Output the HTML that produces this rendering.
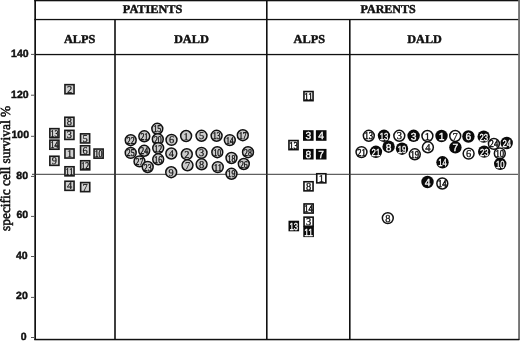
<!DOCTYPE html>
<html><head><meta charset="utf-8"><style>
html,body{margin:0;padding:0;background:#fff;}
body{width:520px;height:342px;overflow:hidden;}
svg{display:block;will-change:transform;}
text{text-rendering:geometricPrecision;}
</style></head><body>
<svg width="520" height="342" viewBox="0 0 520 342">
<rect width="520" height="342" fill="#fff"/>
<!-- grid lines -->
<g fill="#111">
<rect x="34.3" y="0" width="1.7" height="340"/>
<rect x="518.1" y="0" width="1.9" height="340" fill="#747474"/>
<rect x="34.3" y="0" width="484" height="1.3"/>
<rect x="34.3" y="18.9" width="484" height="1.3"/>
<rect x="34.3" y="53.9" width="484" height="1.3"/>
<rect x="34.3" y="338.8" width="485" height="1.5"/>
<rect x="114.2" y="19" width="1.6" height="321"/>
<rect x="266" y="0" width="1.6" height="340"/>
<rect x="349" y="19" width="1.6" height="321"/>
</g>
<rect x="32" y="173.8" width="486" height="1" fill="#3a3a3a"/>
<rect x="31" y="53.90" width="4" height="1" fill="#555"/>
<text x="11.10" y="57.10" font-family="'Liberation Sans', sans-serif" font-weight="bold" font-size="10.5" fill="#111" stroke="#111" stroke-width="0.45">140</text>
<rect x="31" y="94.70" width="4" height="1" fill="#555"/>
<text x="11.10" y="97.50" font-family="'Liberation Sans', sans-serif" font-weight="bold" font-size="10.5" fill="#111" stroke="#111" stroke-width="0.45">120</text>
<rect x="31" y="135.80" width="4" height="1" fill="#555"/>
<text x="11.50" y="138.10" font-family="'Liberation Sans', sans-serif" font-weight="bold" font-size="10.5" fill="#111" stroke="#111" stroke-width="0.45">100</text>
<rect x="31" y="175.90" width="4" height="1" fill="#555"/>
<text x="16.30" y="178.70" font-family="'Liberation Sans', sans-serif" font-weight="bold" font-size="10.5" fill="#111" stroke="#111" stroke-width="0.45">80</text>
<rect x="31" y="215.90" width="4" height="1" fill="#555"/>
<text x="16.50" y="217.50" font-family="'Liberation Sans', sans-serif" font-weight="bold" font-size="10.5" fill="#111" stroke="#111" stroke-width="0.45">60</text>
<rect x="31" y="256.00" width="4" height="1" fill="#555"/>
<text x="15.90" y="258.70" font-family="'Liberation Sans', sans-serif" font-weight="bold" font-size="10.5" fill="#111" stroke="#111" stroke-width="0.45">40</text>
<rect x="31" y="296.90" width="4" height="1" fill="#555"/>
<text x="16.10" y="299.10" font-family="'Liberation Sans', sans-serif" font-weight="bold" font-size="10.5" fill="#111" stroke="#111" stroke-width="0.45">20</text>
<rect x="31" y="337.00" width="4" height="1" fill="#555"/>
<text x="20.70" y="340.10" font-family="'Liberation Sans', sans-serif" font-weight="bold" font-size="10.5" fill="#111" stroke="#111" stroke-width="0.45">0</text>
<g font-family="'Liberation Serif', serif" font-weight="bold" font-size="12" fill="#111" stroke="#111" stroke-width="0.45" lengthAdjust="spacingAndGlyphs">
<text x="122.8" y="13.0" textLength="59.6" lengthAdjust="spacingAndGlyphs">PATIENTS</text>
<text x="360.5" y="13.0" textLength="55.2" lengthAdjust="spacingAndGlyphs">PARENTS</text>
<text x="64" y="42.5" textLength="31.4" lengthAdjust="spacingAndGlyphs">ALPS</text>
<text x="173.9" y="42.5" textLength="34.9" lengthAdjust="spacingAndGlyphs">DALD</text>
<text x="293.6" y="42.5" textLength="31.4" lengthAdjust="spacingAndGlyphs">ALPS</text>
<text x="407.3" y="42.5" textLength="34.5" lengthAdjust="spacingAndGlyphs">DALD</text>
</g>
<text transform="translate(9.7,230.9) rotate(-90)" font-family="'Liberation Serif', serif" font-size="13.8" fill="#111" stroke="#111" stroke-width="0.55" textLength="125" lengthAdjust="spacingAndGlyphs">specific cell survival %</text>
<rect x="64.95" y="84.65" width="9.10" height="9.10" fill="#d2d2d2" stroke="#1a1a1a" stroke-width="1.6"/>
<text x="69.50" y="92.74" font-family="'Liberation Serif', serif" font-size="10.4" text-anchor="middle" fill="#111" stroke="#111" stroke-width="0.20">2</text>
<rect x="64.85" y="117.25" width="9.10" height="9.10" fill="#d2d2d2" stroke="#1a1a1a" stroke-width="1.6"/>
<text x="69.40" y="125.34" font-family="'Liberation Serif', serif" font-size="10.4" text-anchor="middle" fill="#111" stroke="#111" stroke-width="0.20">8</text>
<rect x="49.85" y="128.65" width="9.10" height="9.10" fill="#d2d2d2" stroke="#1a1a1a" stroke-width="1.6"/>
<text x="50.50" y="136.74" font-family="'Liberation Serif', serif" font-size="10.4" text-anchor="start" fill="#111" stroke="#111" stroke-width="0.40" textLength="7.8" lengthAdjust="spacingAndGlyphs">13</text>
<rect x="64.85" y="130.35" width="9.10" height="9.10" fill="#d2d2d2" stroke="#1a1a1a" stroke-width="1.6"/>
<text x="69.40" y="138.44" font-family="'Liberation Serif', serif" font-size="10.4" text-anchor="middle" fill="#111" stroke="#111" stroke-width="0.20">3</text>
<rect x="80.55" y="133.85" width="9.10" height="9.10" fill="#d2d2d2" stroke="#1a1a1a" stroke-width="1.6"/>
<text x="85.10" y="141.94" font-family="'Liberation Serif', serif" font-size="10.4" text-anchor="middle" fill="#111" stroke="#111" stroke-width="0.20">5</text>
<rect x="49.85" y="140.15" width="9.10" height="9.10" fill="#d2d2d2" stroke="#1a1a1a" stroke-width="1.6"/>
<text x="50.50" y="148.24" font-family="'Liberation Serif', serif" font-size="10.4" text-anchor="start" fill="#111" stroke="#111" stroke-width="0.40" textLength="7.8" lengthAdjust="spacingAndGlyphs">14</text>
<rect x="80.55" y="145.75" width="9.10" height="9.10" fill="#d2d2d2" stroke="#1a1a1a" stroke-width="1.6"/>
<text x="85.10" y="153.84" font-family="'Liberation Serif', serif" font-size="10.4" text-anchor="middle" fill="#111" stroke="#111" stroke-width="0.20">6</text>
<rect x="64.95" y="148.95" width="9.10" height="9.10" fill="#d2d2d2" stroke="#1a1a1a" stroke-width="1.6"/>
<text x="69.50" y="157.04" font-family="'Liberation Serif', serif" font-size="10.4" text-anchor="middle" fill="#111" stroke="#111" stroke-width="0.20">1</text>
<rect x="94.05" y="149.05" width="9.10" height="9.10" fill="#d2d2d2" stroke="#1a1a1a" stroke-width="1.6"/>
<text x="94.70" y="157.14" font-family="'Liberation Serif', serif" font-size="10.4" text-anchor="start" fill="#111" stroke="#111" stroke-width="0.40" textLength="7.8" lengthAdjust="spacingAndGlyphs">10</text>
<rect x="49.85" y="156.25" width="9.10" height="9.10" fill="#d2d2d2" stroke="#1a1a1a" stroke-width="1.6"/>
<text x="54.40" y="164.34" font-family="'Liberation Serif', serif" font-size="10.4" text-anchor="middle" fill="#111" stroke="#111" stroke-width="0.20">9</text>
<rect x="80.65" y="160.75" width="9.10" height="9.10" fill="#d2d2d2" stroke="#1a1a1a" stroke-width="1.6"/>
<text x="81.30" y="168.84" font-family="'Liberation Serif', serif" font-size="10.4" text-anchor="start" fill="#111" stroke="#111" stroke-width="0.40" textLength="7.8" lengthAdjust="spacingAndGlyphs">12</text>
<rect x="64.95" y="166.75" width="9.10" height="9.10" fill="#d2d2d2" stroke="#1a1a1a" stroke-width="1.6"/>
<text x="65.60" y="174.84" font-family="'Liberation Serif', serif" font-size="10.4" text-anchor="start" fill="#111" stroke="#111" stroke-width="0.40" textLength="7.8" lengthAdjust="spacingAndGlyphs">11</text>
<rect x="64.95" y="181.25" width="9.10" height="9.10" fill="#d2d2d2" stroke="#1a1a1a" stroke-width="1.6"/>
<text x="69.50" y="189.34" font-family="'Liberation Serif', serif" font-size="10.4" text-anchor="middle" fill="#111" stroke="#111" stroke-width="0.20">4</text>
<rect x="80.65" y="182.55" width="9.10" height="9.10" fill="#d2d2d2" stroke="#1a1a1a" stroke-width="1.6"/>
<text x="85.20" y="190.64" font-family="'Liberation Serif', serif" font-size="10.4" text-anchor="middle" fill="#111" stroke="#111" stroke-width="0.20">7</text>
<circle cx="157.3" cy="128.8" r="5.45" fill="#cbcbcb" stroke="#111" stroke-width="1.5"/>
<text x="153.40" y="132.34" font-family="'Liberation Serif', serif" font-size="10.4" text-anchor="start" fill="#111" stroke="#111" stroke-width="0.40" textLength="7.8" lengthAdjust="spacingAndGlyphs">15</text>
<circle cx="144.3" cy="136.3" r="5.45" fill="#cbcbcb" stroke="#111" stroke-width="1.5"/>
<text x="140.40" y="139.84" font-family="'Liberation Serif', serif" font-size="10.4" text-anchor="start" fill="#111" stroke="#111" stroke-width="0.40" textLength="7.8" lengthAdjust="spacingAndGlyphs">21</text>
<circle cx="130.7" cy="140.2" r="5.45" fill="#cbcbcb" stroke="#111" stroke-width="1.5"/>
<text x="126.80" y="143.74" font-family="'Liberation Serif', serif" font-size="10.4" text-anchor="start" fill="#111" stroke="#111" stroke-width="0.40" textLength="7.8" lengthAdjust="spacingAndGlyphs">22</text>
<circle cx="157.8" cy="139.2" r="5.45" fill="#cbcbcb" stroke="#111" stroke-width="1.5"/>
<text x="153.90" y="142.74" font-family="'Liberation Serif', serif" font-size="10.4" text-anchor="start" fill="#111" stroke="#111" stroke-width="0.40" textLength="7.8" lengthAdjust="spacingAndGlyphs">20</text>
<circle cx="158.2" cy="148.1" r="5.45" fill="#cbcbcb" stroke="#111" stroke-width="1.5"/>
<text x="154.30" y="151.64" font-family="'Liberation Serif', serif" font-size="10.4" text-anchor="start" fill="#111" stroke="#111" stroke-width="0.40" textLength="7.8" lengthAdjust="spacingAndGlyphs">12</text>
<circle cx="130.7" cy="152.9" r="5.45" fill="#cbcbcb" stroke="#111" stroke-width="1.5"/>
<text x="126.80" y="156.44" font-family="'Liberation Serif', serif" font-size="10.4" text-anchor="start" fill="#111" stroke="#111" stroke-width="0.40" textLength="7.8" lengthAdjust="spacingAndGlyphs">25</text>
<circle cx="144.2" cy="150.8" r="5.45" fill="#cbcbcb" stroke="#111" stroke-width="1.5"/>
<text x="140.30" y="154.34" font-family="'Liberation Serif', serif" font-size="10.4" text-anchor="start" fill="#111" stroke="#111" stroke-width="0.40" textLength="7.8" lengthAdjust="spacingAndGlyphs">24</text>
<circle cx="158.2" cy="159.3" r="5.45" fill="#cbcbcb" stroke="#111" stroke-width="1.5"/>
<text x="154.30" y="162.84" font-family="'Liberation Serif', serif" font-size="10.4" text-anchor="start" fill="#111" stroke="#111" stroke-width="0.40" textLength="7.8" lengthAdjust="spacingAndGlyphs">16</text>
<circle cx="139.5" cy="161.4" r="5.45" fill="#cbcbcb" stroke="#111" stroke-width="1.5"/>
<text x="135.60" y="164.94" font-family="'Liberation Serif', serif" font-size="10.4" text-anchor="start" fill="#111" stroke="#111" stroke-width="0.40" textLength="7.8" lengthAdjust="spacingAndGlyphs">27</text>
<circle cx="147.7" cy="167" r="5.45" fill="#cbcbcb" stroke="#111" stroke-width="1.5"/>
<text x="143.80" y="170.54" font-family="'Liberation Serif', serif" font-size="10.4" text-anchor="start" fill="#111" stroke="#111" stroke-width="0.40" textLength="7.8" lengthAdjust="spacingAndGlyphs">23</text>
<circle cx="171.5" cy="139.9" r="5.45" fill="#cbcbcb" stroke="#111" stroke-width="1.5"/>
<text x="171.50" y="143.44" font-family="'Liberation Serif', serif" font-size="10.4" text-anchor="middle" fill="#111" stroke="#111" stroke-width="0.20">6</text>
<circle cx="186.1" cy="136" r="5.45" fill="#cbcbcb" stroke="#111" stroke-width="1.5"/>
<text x="186.10" y="139.54" font-family="'Liberation Serif', serif" font-size="10.4" text-anchor="middle" fill="#111" stroke="#111" stroke-width="0.20">1</text>
<circle cx="201.5" cy="135.8" r="5.45" fill="#cbcbcb" stroke="#111" stroke-width="1.5"/>
<text x="201.50" y="139.34" font-family="'Liberation Serif', serif" font-size="10.4" text-anchor="middle" fill="#111" stroke="#111" stroke-width="0.20">5</text>
<circle cx="216.6" cy="135.8" r="5.45" fill="#cbcbcb" stroke="#111" stroke-width="1.5"/>
<text x="212.70" y="139.34" font-family="'Liberation Serif', serif" font-size="10.4" text-anchor="start" fill="#111" stroke="#111" stroke-width="0.40" textLength="7.8" lengthAdjust="spacingAndGlyphs">13</text>
<circle cx="229.8" cy="140.1" r="5.45" fill="#cbcbcb" stroke="#111" stroke-width="1.5"/>
<text x="225.90" y="143.64" font-family="'Liberation Serif', serif" font-size="10.4" text-anchor="start" fill="#111" stroke="#111" stroke-width="0.40" textLength="7.8" lengthAdjust="spacingAndGlyphs">14</text>
<circle cx="242.8" cy="135.2" r="5.45" fill="#cbcbcb" stroke="#111" stroke-width="1.5"/>
<text x="238.90" y="138.74" font-family="'Liberation Serif', serif" font-size="10.4" text-anchor="start" fill="#111" stroke="#111" stroke-width="0.40" textLength="7.8" lengthAdjust="spacingAndGlyphs">17</text>
<circle cx="171.3" cy="153.5" r="5.45" fill="#cbcbcb" stroke="#111" stroke-width="1.5"/>
<text x="171.30" y="157.04" font-family="'Liberation Serif', serif" font-size="10.4" text-anchor="middle" fill="#111" stroke="#111" stroke-width="0.20">4</text>
<circle cx="186.8" cy="154.2" r="5.45" fill="#cbcbcb" stroke="#111" stroke-width="1.5"/>
<text x="186.80" y="157.74" font-family="'Liberation Serif', serif" font-size="10.4" text-anchor="middle" fill="#111" stroke="#111" stroke-width="0.20">2</text>
<circle cx="201.5" cy="152.9" r="5.45" fill="#cbcbcb" stroke="#111" stroke-width="1.5"/>
<text x="201.50" y="156.44" font-family="'Liberation Serif', serif" font-size="10.4" text-anchor="middle" fill="#111" stroke="#111" stroke-width="0.20">3</text>
<circle cx="217.3" cy="152.2" r="5.45" fill="#cbcbcb" stroke="#111" stroke-width="1.5"/>
<text x="213.40" y="155.74" font-family="'Liberation Serif', serif" font-size="10.4" text-anchor="start" fill="#111" stroke="#111" stroke-width="0.40" textLength="7.8" lengthAdjust="spacingAndGlyphs">10</text>
<circle cx="248" cy="152.2" r="5.45" fill="#cbcbcb" stroke="#111" stroke-width="1.5"/>
<text x="244.10" y="155.74" font-family="'Liberation Serif', serif" font-size="10.4" text-anchor="start" fill="#111" stroke="#111" stroke-width="0.40" textLength="7.8" lengthAdjust="spacingAndGlyphs">28</text>
<circle cx="231.5" cy="158" r="5.45" fill="#cbcbcb" stroke="#111" stroke-width="1.5"/>
<text x="227.60" y="161.54" font-family="'Liberation Serif', serif" font-size="10.4" text-anchor="start" fill="#111" stroke="#111" stroke-width="0.40" textLength="7.8" lengthAdjust="spacingAndGlyphs">18</text>
<circle cx="243.8" cy="164" r="5.45" fill="#cbcbcb" stroke="#111" stroke-width="1.5"/>
<text x="239.90" y="167.54" font-family="'Liberation Serif', serif" font-size="10.4" text-anchor="start" fill="#111" stroke="#111" stroke-width="0.40" textLength="7.8" lengthAdjust="spacingAndGlyphs">26</text>
<circle cx="187.5" cy="165.3" r="5.45" fill="#cbcbcb" stroke="#111" stroke-width="1.5"/>
<text x="187.50" y="168.84" font-family="'Liberation Serif', serif" font-size="10.4" text-anchor="middle" fill="#111" stroke="#111" stroke-width="0.20">7</text>
<circle cx="201.6" cy="164.3" r="5.45" fill="#cbcbcb" stroke="#111" stroke-width="1.5"/>
<text x="201.60" y="167.84" font-family="'Liberation Serif', serif" font-size="10.4" text-anchor="middle" fill="#111" stroke="#111" stroke-width="0.20">8</text>
<circle cx="217.8" cy="167.1" r="5.45" fill="#cbcbcb" stroke="#111" stroke-width="1.5"/>
<text x="213.90" y="170.64" font-family="'Liberation Serif', serif" font-size="10.4" text-anchor="start" fill="#111" stroke="#111" stroke-width="0.40" textLength="7.8" lengthAdjust="spacingAndGlyphs">11</text>
<circle cx="171.2" cy="172.2" r="5.45" fill="#cbcbcb" stroke="#111" stroke-width="1.5"/>
<text x="171.20" y="175.74" font-family="'Liberation Serif', serif" font-size="10.4" text-anchor="middle" fill="#111" stroke="#111" stroke-width="0.20">9</text>
<circle cx="231.5" cy="173.8" r="5.45" fill="#cbcbcb" stroke="#111" stroke-width="1.5"/>
<text x="227.60" y="177.34" font-family="'Liberation Serif', serif" font-size="10.4" text-anchor="start" fill="#111" stroke="#111" stroke-width="0.40" textLength="7.8" lengthAdjust="spacingAndGlyphs">19</text>
<rect x="303.95" y="91.55" width="9.10" height="9.10" fill="#fff" stroke="#111" stroke-width="1.6"/>
<text x="304.20" y="99.67" font-family="'Liberation Serif', serif" font-size="10.5" text-anchor="start" fill="#111" stroke="#111" stroke-width="0.50" textLength="8.6" lengthAdjust="spacingAndGlyphs">11</text>
<rect x="303.00" y="130.20" width="10.60" height="10.60" fill="#0a0a0a"/>
<text x="308.30" y="139.41" font-family="'Liberation Sans', sans-serif" font-size="10.3" text-anchor="middle" fill="#fff" stroke="#fff" stroke-width="0.30">3</text>
<rect x="315.90" y="130.20" width="10.60" height="10.60" fill="#0a0a0a"/>
<text x="321.20" y="139.41" font-family="'Liberation Sans', sans-serif" font-size="10.3" text-anchor="middle" fill="#fff" stroke="#fff" stroke-width="0.30">4</text>
<rect x="288.95" y="140.55" width="9.10" height="9.10" fill="#fff" stroke="#111" stroke-width="1.6"/>
<text x="289.20" y="148.67" font-family="'Liberation Serif', serif" font-size="10.5" text-anchor="start" fill="#111" stroke="#111" stroke-width="0.50" textLength="8.6" lengthAdjust="spacingAndGlyphs">13</text>
<rect x="303.00" y="148.90" width="10.60" height="10.60" fill="#0a0a0a"/>
<text x="308.30" y="158.11" font-family="'Liberation Sans', sans-serif" font-size="10.3" text-anchor="middle" fill="#fff" stroke="#fff" stroke-width="0.30">8</text>
<rect x="315.90" y="148.90" width="10.60" height="10.60" fill="#0a0a0a"/>
<text x="321.20" y="158.11" font-family="'Liberation Sans', sans-serif" font-size="10.3" text-anchor="middle" fill="#fff" stroke="#fff" stroke-width="0.30">7</text>
<rect x="316.75" y="173.75" width="9.10" height="9.10" fill="#fff" stroke="#111" stroke-width="1.6"/>
<text x="321.30" y="181.87" font-family="'Liberation Serif', serif" font-size="10.5" text-anchor="middle" fill="#111" stroke="#111" stroke-width="0.30">1</text>
<rect x="303.95" y="181.75" width="9.10" height="9.10" fill="#fff" stroke="#111" stroke-width="1.6"/>
<text x="308.50" y="189.87" font-family="'Liberation Serif', serif" font-size="10.5" text-anchor="middle" fill="#111" stroke="#111" stroke-width="0.30">8</text>
<rect x="304.05" y="203.95" width="9.10" height="9.10" fill="#fff" stroke="#111" stroke-width="1.6"/>
<text x="304.30" y="212.07" font-family="'Liberation Serif', serif" font-size="10.5" text-anchor="start" fill="#111" stroke="#111" stroke-width="0.50" textLength="8.6" lengthAdjust="spacingAndGlyphs">14</text>
<rect x="304.05" y="217.15" width="9.10" height="9.10" fill="#fff" stroke="#111" stroke-width="1.6"/>
<text x="308.60" y="225.27" font-family="'Liberation Serif', serif" font-size="10.5" text-anchor="middle" fill="#111" stroke="#111" stroke-width="0.30">3</text>
<rect x="303.30" y="226.50" width="10.60" height="10.60" fill="#0a0a0a"/>
<text x="304.30" y="235.71" font-family="'Liberation Sans', sans-serif" font-size="10.3" text-anchor="start" fill="#fff" stroke="#fff" stroke-width="0.30" textLength="8.6" lengthAdjust="spacingAndGlyphs">11</text>
<rect x="288.50" y="220.70" width="10.60" height="10.60" fill="#0a0a0a"/>
<text x="289.50" y="229.91" font-family="'Liberation Sans', sans-serif" font-size="10.3" text-anchor="start" fill="#fff" stroke="#fff" stroke-width="0.30" textLength="8.6" lengthAdjust="spacingAndGlyphs">13</text>
<circle cx="493.9" cy="143.9" r="5.45" fill="#fff" stroke="#111" stroke-width="1.5"/>
<text x="489.60" y="147.47" font-family="'Liberation Serif', serif" font-size="10.5" text-anchor="start" fill="#111" stroke="#111" stroke-width="0.50" textLength="8.6" lengthAdjust="spacingAndGlyphs">24</text>
<circle cx="368.8" cy="135.8" r="5.45" fill="#fff" stroke="#111" stroke-width="1.5"/>
<text x="364.50" y="139.37" font-family="'Liberation Serif', serif" font-size="10.5" text-anchor="start" fill="#111" stroke="#111" stroke-width="0.50" textLength="8.6" lengthAdjust="spacingAndGlyphs">13</text>
<circle cx="384" cy="135.8" r="6.20" fill="#0a0a0a"/>
<text x="379.70" y="139.71" font-family="'Liberation Sans', sans-serif" font-size="10.3" text-anchor="start" fill="#fff" stroke="#fff" stroke-width="0.30" textLength="8.6" lengthAdjust="spacingAndGlyphs">13</text>
<circle cx="399.3" cy="135.8" r="5.45" fill="#fff" stroke="#111" stroke-width="1.5"/>
<text x="399.30" y="139.37" font-family="'Liberation Serif', serif" font-size="10.5" text-anchor="middle" fill="#111" stroke="#111" stroke-width="0.30">3</text>
<circle cx="413.6" cy="135.8" r="6.20" fill="#0a0a0a"/>
<text x="413.60" y="139.71" font-family="'Liberation Sans', sans-serif" font-size="10.3" text-anchor="middle" fill="#fff" stroke="#fff" stroke-width="0.30">3</text>
<circle cx="427.4" cy="136" r="5.45" fill="#fff" stroke="#111" stroke-width="1.5"/>
<text x="427.40" y="139.57" font-family="'Liberation Serif', serif" font-size="10.5" text-anchor="middle" fill="#111" stroke="#111" stroke-width="0.30">1</text>
<circle cx="441.5" cy="136" r="6.20" fill="#0a0a0a"/>
<text x="441.50" y="139.91" font-family="'Liberation Sans', sans-serif" font-size="10.3" text-anchor="middle" fill="#fff" stroke="#fff" stroke-width="0.30">1</text>
<circle cx="455.2" cy="136" r="5.45" fill="#fff" stroke="#111" stroke-width="1.5"/>
<text x="455.20" y="139.57" font-family="'Liberation Serif', serif" font-size="10.5" text-anchor="middle" fill="#111" stroke="#111" stroke-width="0.30">7</text>
<circle cx="468.4" cy="136.5" r="6.20" fill="#0a0a0a"/>
<text x="468.40" y="140.41" font-family="'Liberation Sans', sans-serif" font-size="10.3" text-anchor="middle" fill="#fff" stroke="#fff" stroke-width="0.30">6</text>
<circle cx="483.7" cy="136.6" r="6.20" fill="#0a0a0a"/>
<text x="479.40" y="140.51" font-family="'Liberation Sans', sans-serif" font-size="10.3" text-anchor="start" fill="#fff" stroke="#fff" stroke-width="0.30" textLength="8.6" lengthAdjust="spacingAndGlyphs">23</text>
<circle cx="506.7" cy="143" r="6.20" fill="#0a0a0a"/>
<text x="502.40" y="146.91" font-family="'Liberation Sans', sans-serif" font-size="10.3" text-anchor="start" fill="#fff" stroke="#fff" stroke-width="0.30" textLength="8.6" lengthAdjust="spacingAndGlyphs">24</text>
<circle cx="361.5" cy="152.1" r="5.45" fill="#fff" stroke="#111" stroke-width="1.5"/>
<text x="357.20" y="155.67" font-family="'Liberation Serif', serif" font-size="10.5" text-anchor="start" fill="#111" stroke="#111" stroke-width="0.50" textLength="8.6" lengthAdjust="spacingAndGlyphs">21</text>
<circle cx="375.9" cy="151.8" r="6.20" fill="#0a0a0a"/>
<text x="371.60" y="155.71" font-family="'Liberation Sans', sans-serif" font-size="10.3" text-anchor="start" fill="#fff" stroke="#fff" stroke-width="0.30" textLength="8.6" lengthAdjust="spacingAndGlyphs">21</text>
<circle cx="388.6" cy="146.7" r="6.20" fill="#0a0a0a"/>
<text x="388.60" y="150.61" font-family="'Liberation Sans', sans-serif" font-size="10.3" text-anchor="middle" fill="#fff" stroke="#fff" stroke-width="0.30">8</text>
<circle cx="402" cy="148.7" r="6.20" fill="#0a0a0a"/>
<text x="397.70" y="152.61" font-family="'Liberation Sans', sans-serif" font-size="10.3" text-anchor="start" fill="#fff" stroke="#fff" stroke-width="0.30" textLength="8.6" lengthAdjust="spacingAndGlyphs">19</text>
<circle cx="414.8" cy="154.3" r="5.45" fill="#fff" stroke="#111" stroke-width="1.5"/>
<text x="410.50" y="157.87" font-family="'Liberation Serif', serif" font-size="10.5" text-anchor="start" fill="#111" stroke="#111" stroke-width="0.50" textLength="8.6" lengthAdjust="spacingAndGlyphs">19</text>
<circle cx="427.9" cy="147.3" r="5.45" fill="#fff" stroke="#111" stroke-width="1.5"/>
<text x="427.90" y="150.87" font-family="'Liberation Serif', serif" font-size="10.5" text-anchor="middle" fill="#111" stroke="#111" stroke-width="0.30">4</text>
<circle cx="455.4" cy="147.4" r="6.20" fill="#0a0a0a"/>
<text x="455.40" y="151.31" font-family="'Liberation Sans', sans-serif" font-size="10.3" text-anchor="middle" fill="#fff" stroke="#fff" stroke-width="0.30">7</text>
<circle cx="468.6" cy="153.6" r="5.45" fill="#fff" stroke="#111" stroke-width="1.5"/>
<text x="468.60" y="157.17" font-family="'Liberation Serif', serif" font-size="10.5" text-anchor="middle" fill="#111" stroke="#111" stroke-width="0.30">6</text>
<circle cx="484.2" cy="151.6" r="6.20" fill="#0a0a0a"/>
<text x="479.90" y="155.51" font-family="'Liberation Sans', sans-serif" font-size="10.3" text-anchor="start" fill="#fff" stroke="#fff" stroke-width="0.30" textLength="8.6" lengthAdjust="spacingAndGlyphs">23</text>
<circle cx="499.8" cy="153.4" r="5.45" fill="#fff" stroke="#111" stroke-width="1.5"/>
<text x="495.50" y="156.97" font-family="'Liberation Serif', serif" font-size="10.5" text-anchor="start" fill="#111" stroke="#111" stroke-width="0.50" textLength="8.6" lengthAdjust="spacingAndGlyphs">10</text>
<circle cx="500.2" cy="163.8" r="6.20" fill="#0a0a0a"/>
<text x="495.90" y="167.71" font-family="'Liberation Sans', sans-serif" font-size="10.3" text-anchor="start" fill="#fff" stroke="#fff" stroke-width="0.30" textLength="8.6" lengthAdjust="spacingAndGlyphs">10</text>
<circle cx="442.5" cy="162.3" r="6.20" fill="#0a0a0a"/>
<text x="438.20" y="166.21" font-family="'Liberation Sans', sans-serif" font-size="10.3" text-anchor="start" fill="#fff" stroke="#fff" stroke-width="0.30" textLength="8.6" lengthAdjust="spacingAndGlyphs">14</text>
<circle cx="427.5" cy="182" r="6.20" fill="#0a0a0a"/>
<text x="427.50" y="185.91" font-family="'Liberation Sans', sans-serif" font-size="10.3" text-anchor="middle" fill="#fff" stroke="#fff" stroke-width="0.30">4</text>
<circle cx="442.3" cy="183.5" r="5.45" fill="#fff" stroke="#111" stroke-width="1.5"/>
<text x="438.00" y="187.07" font-family="'Liberation Serif', serif" font-size="10.5" text-anchor="start" fill="#111" stroke="#111" stroke-width="0.50" textLength="8.6" lengthAdjust="spacingAndGlyphs">14</text>
<circle cx="387.8" cy="218.1" r="5.45" fill="#fff" stroke="#111" stroke-width="1.5"/>
<text x="387.80" y="221.67" font-family="'Liberation Serif', serif" font-size="10.5" text-anchor="middle" fill="#111" stroke="#111" stroke-width="0.30">8</text>
</svg>
</body></html>
